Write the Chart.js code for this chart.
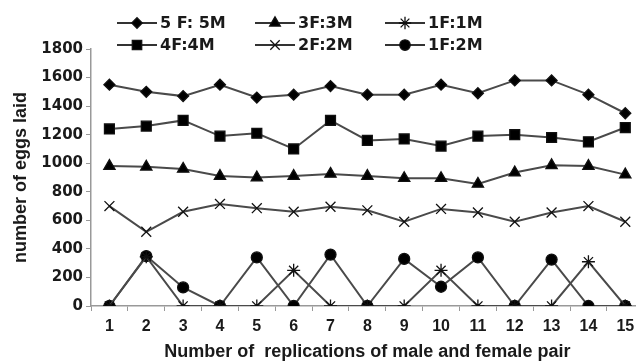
<!DOCTYPE html>
<html>
<head>
<meta charset="utf-8">
<script src="https://cdn.jsdelivr.net/npm/chart.js@4/dist/chart.umd.min.js"></script>
<style>
  html, body { margin: 0; padding: 0; background: #fff; overflow: hidden; }
  #wrap { width: 652px; height: 364px; }
</style>
</head>
<body>
<div id="wrap"><canvas id="c" width="652" height="364"></canvas></div>
<script>
// ---- data ----
const replications = ['1','2','3','4','5','6','7','8','9','10','11','12','13','14','15'];
const seriesNames = ['5 F: 5M', '4F:4M', '3F:3M', '2F:2M', '1F:1M', '1F:2M'];
const s5F5M = [1550,1500,1470,1550,1460,1480,1540,1480,1480,1550,1490,1580,1580,1480,1350];
const s4F4M = [1240,1260,1300,1190,1210,1100,1300,1160,1170,1120,1190,1200,1180,1150,1250];
const s3F3M = [980,975,960,910,900,910,925,910,895,895,855,935,985,980,920];
const s2F2M = [700,520,660,715,685,660,695,670,590,680,655,590,655,700,590];
const s1F1M = [0,345,0,0,0,250,0,0,0,250,0,0,0,310,0];
const s1F2M = [0,350,130,0,340,0,360,0,330,135,340,0,325,0,0];
const yTicks = [0,200,400,600,800,1000,1200,1400,1600,1800];
const xTitle = 'Number of  replications of male and female pair';
const yTitle = 'number of eggs laid';

const styles = [
  {pointStyle: 'rectRot', r: 5.5},
  {pointStyle: 'rect', r: 7},
  {pointStyle: 'triangle', r: 6.5},
  {pointStyle: 'crossRot', r: 7},
  {pointStyle: 'star', r: 6.5},
  {pointStyle: 'circle', r: 5.5}
];
const values = [s5F5M, s4F4M, s3F3M, s2F2M, s1F1M, s1F2M];

const datasets = values.map((v, i) => ({
  label: seriesNames[i],
  data: v,
  borderColor: '#4a4a4a',
  borderWidth: 2,
  pointStyle: styles[i].pointStyle,
  pointRadius: styles[i].r,
  pointHoverRadius: styles[i].r,
  pointBackgroundColor: '#000',
  pointBorderColor: '#111',
  pointBorderWidth: 1.3,
  tension: 0,
  fill: false
}));

// custom legend: 2 rows x 3 columns, line sample with marker in middle
const legendPlugin = {
  id: 'lineMarkerLegend',
  afterDraw(chart) {
    const ctx = chart.ctx;
    const cols = [117, 255, 385];
    const rows = [23, 45];
    const order = [[0,2,4],[1,3,5]];
    ctx.save();
    ctx.font = 'bold 16px "DejaVu Sans"';
    ctx.textBaseline = 'middle';
    for (let r = 0; r < 2; r++) {
      for (let c = 0; c < 3; c++) {
        const i = order[r][c];
        const x0 = cols[c], y = rows[r];
        ctx.strokeStyle = '#333';
        ctx.lineWidth = 2;
        ctx.beginPath();
        ctx.moveTo(x0, y);
        ctx.lineTo(x0 + 40, y);
        ctx.stroke();
        ctx.fillStyle = '#000';
        ctx.strokeStyle = '#111';
        ctx.lineWidth = 1.3;
        Chart.helpers.drawPoint(ctx, {pointStyle: styles[i].pointStyle, radius: styles[i].r * 0.95, rotation: 0, borderWidth: 1.3}, x0 + 20, y);
        ctx.fillStyle = '#1a1a1a';
        ctx.fillText(seriesNames[i], x0 + 43, y + 1);
      }
    }
    ctx.restore();
  }
};

new Chart(document.getElementById('c'), {
  type: 'line',
  data: { labels: replications, datasets },
  options: {
    responsive: false,
    animation: false,
    layout: { padding: { top: 49, right: 8, bottom: 0, left: 0 } },
    plugins: { legend: { display: false }, tooltip: { enabled: false } },
    scales: {
      x: {
        type: 'category',
        offset: true,
        grid: { offset: true, drawOnChartArea: false, color: '#999', tickLength: 5, lineWidth: 1 },
        border: { color: '#999', width: 1.5 },
        ticks: { color: '#1a1a1a', font: { family: 'Liberation Sans', weight: 'bold', size: 16 }, padding: 6, maxRotation: 0, autoSkip: false },
        title: { display: true, text: xTitle, color: '#1a1a1a', font: { family: 'Liberation Sans', weight: 'bold', size: 18 }, padding: { top: 0, bottom: 1 } },
        afterFit(s) { s.height = 58; }
      },
      y: {
        min: 0, max: 1800,
        afterBuildTicks(s) { s.ticks = yTicks.map(v => ({ value: v })); },
        grid: { drawOnChartArea: false, color: '#999', tickLength: 5 },
        border: { color: '#999', width: 1.5 },
        ticks: { color: '#1a1a1a', font: { family: 'DejaVu Sans', weight: 'bold', size: 15 }, padding: 3,
                 callback: (v) => String(v) },
        title: { display: true, text: yTitle, color: '#1a1a1a', font: { family: 'Liberation Sans', weight: 'bold', size: 18 }, padding: { top: 10, bottom: 0 } },
        afterFit(s) { s.width = 91; }
      }
    }
  },
  plugins: [legendPlugin]
});
</script>
</body>
</html>
